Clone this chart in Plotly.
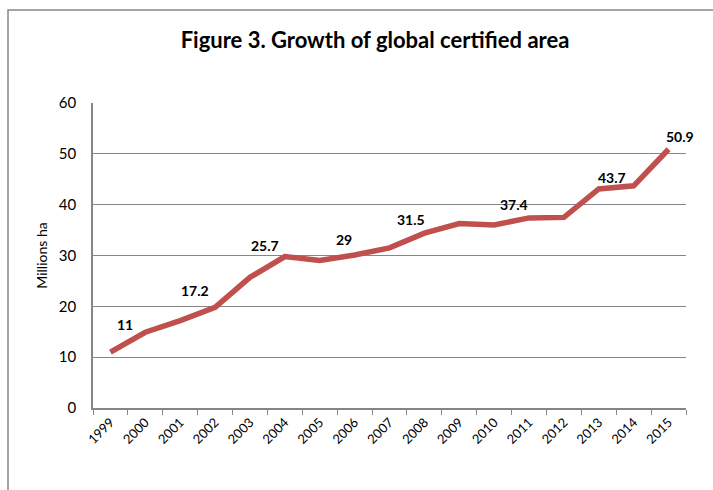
import plotly.graph_objects as go

# Global certified area, millions of hectares
years = [str(y) for y in range(1999, 2016)]
area = [11.0, 14.9, 17.2, 19.8, 25.7, 29.8, 29.0, 30.1, 31.5, 34.4,
        36.3, 36.0, 37.4, 37.5, 43.1, 43.7, 50.9]

# Years that carry a value label
label_years = ["1999", "2001", "2003", "2005", "2007", "2011", "2014", "2015"]
# Pixel offsets of each value label from its point (styling only)
label_dx = [15, 15, 15, 24, 21, -15, -22, 11]
label_dy = [28, 30, 32, 21, 28, 13, 8, 13]

LINE_RED = "#C0504D"
GRID = "#868686"
FONT = "Lato"

fig = go.Figure()
fig.add_trace(go.Scatter(
    x=years, y=area, mode="lines",
    line=dict(color=LINE_RED, width=5.5),
    hoverinfo="x+y", showlegend=False,
))

for yr, dx, dy in zip(label_years, label_dx, label_dy):
    i = years.index(yr)  # category axes place annotations by index
    fig.add_annotation(
        x=i, y=area[i], text=f"<b>{area[i]:g}</b>",
        showarrow=False, xshift=dx, yshift=dy,
        font=dict(family=FONT, size=14, color="black"),
    )

# Plot area in pixels (used to place the chart frame)
W, H = 713, 490
L, R, T, B = 93, 686, 103, 408
pw, ph = R - L, B - T


def px(x):
    return (x - L) / pw


def py(y):
    return (B - y) / ph


fig.add_shape(type="rect", xref="paper", yref="paper",
              x0=px(8), x1=px(W + 20), y0=py(H + 20), y1=py(10),
              line=dict(color=GRID, width=1.5), fillcolor="rgba(0,0,0,0)",
              layer="below")

fig.update_layout(
    width=W, height=H,
    margin=dict(l=L, r=W - R, t=T, b=H - B),
    paper_bgcolor="white", plot_bgcolor="white",
    font=dict(family=FONT, color="black"),
    title=dict(text="<b>Figure 3. Growth of global certified area</b>",
               x=(375 - L) / pw, xref="paper", xanchor="center",
               y=1 - 40 / H, yanchor="middle",
               font=dict(family=FONT, size=22, color="black")),
)

fig.update_xaxes(
    type="category", range=[-0.5, len(years) - 0.5],
    showline=True, linecolor=GRID, linewidth=1.5,
    ticks="outside", tickson="boundaries", ticklen=5, tickcolor=GRID,
    tickangle=-45, tickfont=dict(family=FONT, size=13),
    showgrid=False, zeroline=False,
)
fig.update_yaxes(
    range=[0, 60], dtick=10,
    showline=True, linecolor=GRID, linewidth=1.5,
    showgrid=True, gridcolor=GRID, gridwidth=1.2,
    zeroline=False, ticks="",
    tickfont=dict(family=FONT, size=15),
    ticklabelstandoff=12,
    title=dict(text="Millions ha", font=dict(family=FONT, size=14), standoff=8),
)

fig.write_html("out.html")
